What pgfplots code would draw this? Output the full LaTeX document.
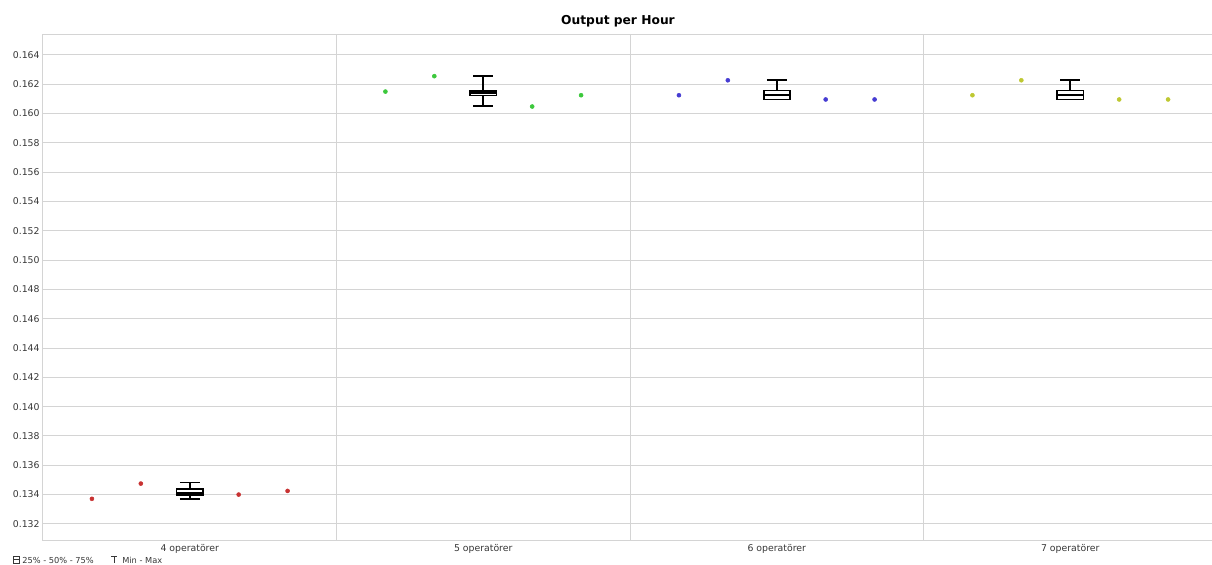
\documentclass[border=0pt]{standalone}
\usepackage{fontspec}
\setmainfont{DejaVu Sans}
\usepackage{pgfplots}
\pgfplotsset{compat=1.18}
\usepgfplotslibrary{statistics}
\definecolor{gridc}{RGB}{212,212,212}
\definecolor{txt}{RGB}{55,55,55}
\definecolor{c1}{RGB}{200,50,50}
\definecolor{c2}{RGB}{60,200,60}
\definecolor{c3}{RGB}{70,60,210}
\definecolor{c4}{RGB}{190,200,50}
\begin{document}
\begin{tikzpicture}[x=0.75pt,y=0.75pt]
\useasboundingbox (-43,-24) rectangle (1169,540);
\begin{axis}[
  at={(0,0)}, anchor=south west,
  scale only axis, width=880.5pt, height=378.75pt,
  xmin=0.5, xmax=4.5, ymin=0.1309, ymax=0.16536,
  xtick={1,2,3,4},
  xticklabels={4 operatörer,5 operatörer,6 operatörer,7 operatörer},
  minor xtick={1.5,2.5,3.5}, xminorgrids,
  ytick={0.132,0.134,0.136,0.138,0.140,0.142,0.144,0.146,0.148,0.150,0.152,0.154,0.156,0.158,0.160,0.162,0.164},
  ymajorgrids,
  grid style={gridc, line width=0.75pt},
  minor grid style={gridc, line width=0.75pt},
  axis line style={gridc, line width=0.75pt},
  major tick length=0pt, minor tick length=0pt,
  scaled y ticks=false,
  /pgf/number format/assume math mode=true,
  yticklabel style={/pgf/number format/fixed, /pgf/number format/precision=3, /pgf/number format/fixed zerofill, font=\fontsize{7}{8}\selectfont, text=txt, xshift=1pt},
  xticklabel style={font=\fontsize{7}{8}\selectfont, text=txt, yshift=0.5pt},
  title={Output per Hour},
  title style={font=\fontsize{9.2}{11}\selectfont\bfseries, at={(0.5,1)}, anchor=base, yshift=1.5pt, xshift=-9pt},
  boxplot/draw direction=y,
  boxplot/box extend=0.089,
  boxplot/draw/lower whisker/.code={
    \draw[/pgfplots/boxplot/every whisker/.try]
      (boxplot whisker cs:\pgfplotsboxplotvalue{lower whisker},0.5) --
      (boxplot whisker cs:\pgfplotsboxplotvalue{lower quartile},0.5);
    \draw[/pgfplots/boxplot/every whisker/.try]
      (boxplot box cs:\pgfplotsboxplotvalue{lower whisker},0.12) --
      (boxplot box cs:\pgfplotsboxplotvalue{lower whisker},0.88);
  },
  boxplot/draw/upper whisker/.code={
    \draw[/pgfplots/boxplot/every whisker/.try]
      (boxplot whisker cs:\pgfplotsboxplotvalue{upper whisker},0.5) --
      (boxplot whisker cs:\pgfplotsboxplotvalue{upper quartile},0.5);
    \draw[/pgfplots/boxplot/every whisker/.try]
      (boxplot box cs:\pgfplotsboxplotvalue{upper whisker},0.12) --
      (boxplot box cs:\pgfplotsboxplotvalue{upper whisker},0.88);
  },
]
% points
\addplot[only marks, mark=*, mark size=1.5pt, color=c1] coordinates {(0.6667,0.13371) (0.8333,0.13475) (1.1667,0.13400) (1.3333,0.13425)};
\addplot[only marks, mark=*, mark size=1.5pt, color=c2] coordinates {(1.6667,0.16150) (1.8333,0.16255) (2.1667,0.16048) (2.3333,0.16125)};
\addplot[only marks, mark=*, mark size=1.5pt, color=c3] coordinates {(2.6667,0.16125) (2.8333,0.16227) (3.1667,0.16096) (3.3333,0.16096)};
\addplot[only marks, mark=*, mark size=1.5pt, color=c4] coordinates {(3.6667,0.16125) (3.8333,0.16227) (4.1667,0.16096) (4.3333,0.16096)};
% boxes
\addplot[black, line width=1.2pt, boxplot prepared={draw position=1, lower whisker=0.13371, lower quartile=0.13396, median=0.134125, upper quartile=0.13437, upper whisker=0.13482}] coordinates {};
\addplot[black, line width=1.2pt, boxplot prepared={draw position=2, lower whisker=0.16050, lower quartile=0.16123, median=0.16140, upper quartile=0.16155, upper whisker=0.16258}] coordinates {};
\addplot[black, line width=1.2pt, boxplot prepared={draw position=3, lower whisker=0.16097, lower quartile=0.16097, median=0.16127, upper quartile=0.16157, upper whisker=0.16230}] coordinates {};
\addplot[black, line width=1.2pt, boxplot prepared={draw position=4, lower whisker=0.16097, lower quartile=0.16097, median=0.16127, upper quartile=0.16157, upper whisker=0.16230}] coordinates {};
\end{axis}
% legend below (pixel coords relative to axis origin at (43,540))
\draw[txt, line width=0.6pt] (-30,-16) rectangle (-24,-23);
\draw[txt, line width=0.6pt] (-30,-19.5) -- (-24,-19.5);
\node[anchor=base west, inner sep=0pt, text=txt, font=\fontsize{6.2}{7}\selectfont] at (-21,-23) {25\% - 50\% - 75\%};
\draw[txt, line width=0.6pt] (68,-16) -- (74,-16) (71,-16) -- (71,-23);
\node[anchor=base west, inner sep=0pt, text=txt, font=\fontsize{6.2}{7}\selectfont] at (79,-23) {Min - Max};
\end{tikzpicture}
\end{document}
